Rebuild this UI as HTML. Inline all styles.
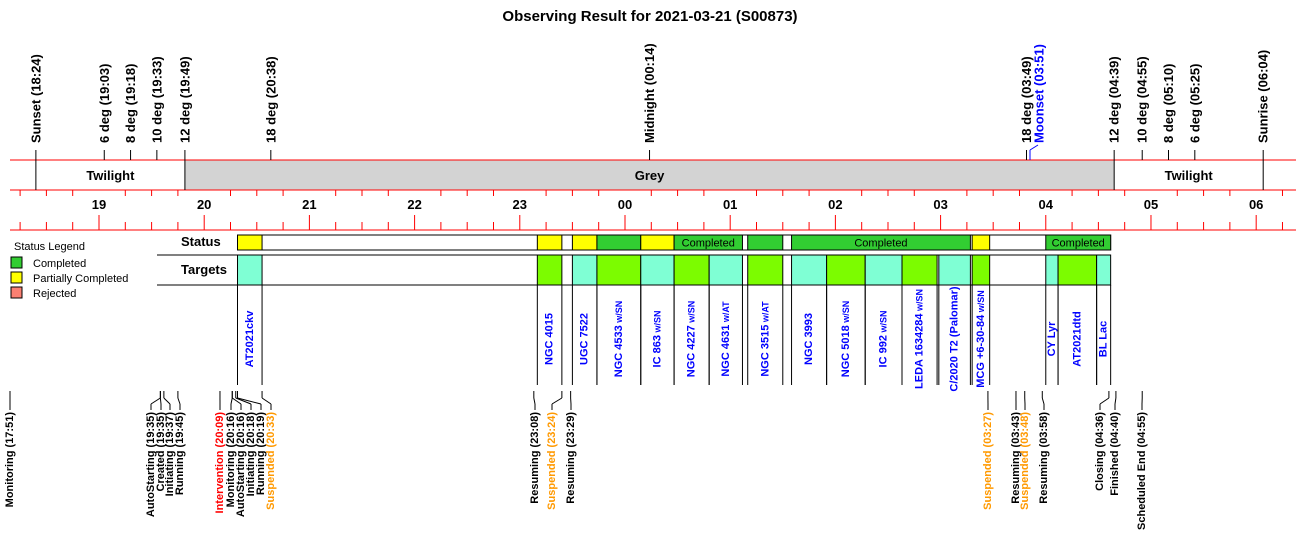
<!DOCTYPE html>
<html><head><meta charset="utf-8"><style>
html,body{margin:0;padding:0;background:#fff}
svg{display:block;font-family:"Liberation Sans",Arial,sans-serif}
</style></head><body>
<svg id="chart" width="1300" height="560" viewBox="0 0 1300 560" xmlns="http://www.w3.org/2000/svg">
<text x="650" y="21" text-anchor="middle" font-size="15" font-weight="bold">Observing Result for 2021-03-21 (S00873)</text>
<g font-size="11">
<text x="14" y="250">Status Legend</text>
<rect x="11" y="257" width="11" height="11" fill="#32CD32" stroke="#000"/>
<text x="33" y="267">Completed</text>
<rect x="11" y="272" width="11" height="11" fill="#FFFF00" stroke="#000"/>
<text x="33" y="282">Partially Completed</text>
<rect x="11" y="287" width="11" height="11" fill="#FA8072" stroke="#000"/>
<text x="33" y="297">Rejected</text>
</g>
<text x="181" y="246" font-size="13" font-weight="bold">Status</text>
<text x="181" y="274" font-size="13" font-weight="bold">Targets</text>
<g id="g"></g>
</svg>
<script>
const hourLabels = ["19","20","21","22","23","00","01","02","03","04","05","06"];
const topEvents = [
 ["Sunset","18:24"],["6 deg","19:03"],["8 deg","19:18"],["10 deg","19:33"],["12 deg","19:49"],
 ["18 deg","20:38"],["Midnight","00:14"],["18 deg","03:49"],["12 deg","04:39"],["10 deg","04:55"],
 ["8 deg","05:10"],["6 deg","05:25"],["Sunrise","06:04"]];
const moonEvent = ["Moonset","03:51"];
const bandEdges = ["18:24","19:49","04:39","06:04"];
const statusSegs = [
 ["20:19","20:33","P",""],["23:10","23:24","P",""],["23:30","23:44","P",""],["23:44","00:09","C",""],
 ["00:09","00:28","P",""],["00:28","01:07","C","Completed"],["01:10","01:30","C",""],
 ["01:35","03:17","C","Completed"],["03:18","03:28","P",""],["04:00","04:37","C","Completed"]];
const targetNames = ["AT2021ckv","NGC 4015","UGC 7522","NGC 4533|w/SN","IC 863|w/SN","NGC 4227|w/SN","NGC 4631|w/AT","NGC 3515|w/AT","NGC 3993","NGC 5018|w/SN","IC 992|w/SN","LEDA 1634284|w/SN","C/2020 T2 (Palomar)","MCG +6-30-84|w/SN","CY Lyr","AT2021dtd","BL Lac"];
const targetStart = ["20:19","23:10","23:30","23:44","00:09","00:28","00:48","01:10","01:35","01:55","02:17","02:38","02:59","03:18","04:00","04:07","04:29"];
const targetEnd   = ["20:33","23:24","23:44","00:09","00:28","00:48","01:07","01:30","01:55","02:17","02:38","02:58","03:17","03:28","04:07","04:29","04:37"];
const targetLime  = [0,1,0,1,0,1,0,1,0,1,0,1,0,1,0,1,0];
const bottomEvents = [
 ["Monitoring","17:51","k",10],["AutoStarting","19:35","k",151],["Created","19:35","k",161],["Initiating","19:37","k",170],
 ["Running","19:45","k",180],["Intervention","20:09","r",220],["Monitoring","20:16","k",231],["AutoStarting","20:16","k",241],
 ["Initiating","20:18","k",251],["Running","20:19","k",261],["Suspended","20:33","o",271],["Resuming","23:08","k",535],
 ["Suspended","23:24","o",552],["Resuming","23:29","k",571],["Suspended","03:27","o",988],["Resuming","03:43","k",1016],
 ["Suspended","03:48","o",1025],["Resuming","03:58","k",1044],["Closing","04:36","k",1100],["Finished","04:40","k",1115],
 ["Scheduled End","04:55","k",1142]];

const NS="http://www.w3.org/2000/svg";
const g=document.getElementById('g');
function mins(s){let [h,m]=s.split(':').map(Number);if(h<12)h+=24;return (h-19)*60+m;}
function X(s){return 99+mins(s)*1.7533;}
function XM(m){return 99+m*1.7533;}
function el(tag,attrs,parent){const e=document.createElementNS(NS,tag);for(const k in attrs)e.setAttribute(k,attrs[k]);(parent||g).appendChild(e);return e;}
function line(x1,y1,x2,y2,c,name){const e=el('line',{x1,y1,x2,y2,stroke:c||'#000','stroke-width':1});

return e;}
function rtext(x,y,txt,anchor,size,color,name){const e=el('text',{transform:`translate(${x},${y}) rotate(-90)`,'text-anchor':anchor,'dominant-baseline':'central','font-size':size,'font-weight':'bold',fill:color});e.textContent=txt;

return e;}

// twilight band
const gr=el('rect',{x:X(bandEdges[1]),y:160,width:X(bandEdges[2])-X(bandEdges[1]),height:30,fill:'#D3D3D3'});


[[ (X(bandEdges[0])+X(bandEdges[1]))/2,"Twilight"],[(X(bandEdges[1])+X(bandEdges[2]))/2,"Grey"],[(X(bandEdges[2])+X(bandEdges[3]))/2,"Twilight"]].forEach(([x,t])=>{
 const e=el('text',{x,y:180,'text-anchor':'middle','font-size':13,'font-weight':'bold'});e.textContent=t;
 
 });
[160,190,230].forEach(y=>line(10,y,1296,y,'#FF0000','axis-red-line'));
// ticks
for(let m=-45;m<=11*60+75;m+=15){const x=XM(m);if(x<10||x>1296)continue;
 const hr=(m%60===0);
 if(!hr) line(x,190,x,196,'#FF0000','minor-tick-top');
 line(x,hr?215:222,x,230,'#FF0000',hr?'hour-tick':'minor-tick');}
hourLabels.forEach((h,i)=>{const e=el('text',{x:XM(i*60),y:209,'text-anchor':'middle','font-size':13,'font-weight':'bold'});e.textContent=h;
 
 });
// top events
topEvents.forEach(([n,t])=>{const x=X(t);const full=bandEdges.includes(t);
 line(x,150,x,full?190:160,'#000','event-tick');
 rtext(x,143,`${n} (${t})`,'start',13,'#000','top-event-label');});
{const x=X(moonEvent[1]);line(x,150,x,160,'#0000FF','moonset-tick');line(x,150,x+8,145,'#0000FF','moonset-connector');
 rtext(x+9,143,`${moonEvent[0]} (${moonEvent[1]})`,'start',13,'#0000FF','moonset-label');}
// status row
const sx0=X(statusSegs[0][0]), sx1=X(statusSegs[statusSegs.length-1][1]);
const sb=el('rect',{x:sx0,y:235,width:sx1-sx0,height:15,fill:'#fff',stroke:'#000'});


statusSegs.forEach(([a,b,s,lab])=>{const x=X(a),w=X(b)-X(a);
 const r=el('rect',{x,y:235,width:w,height:15,fill:s==='C'?'#32CD32':'#FFFF00',stroke:'#000'});
 
 
 if(lab){const e=el('text',{x:x+w/2,y:246.5,'text-anchor':'middle','font-size':11});e.textContent=lab;
  
  }});
// targets
line(157,255,sx1,255,'#000','targets-row-top');line(157,285,sx1,285,'#000','targets-row-bottom');
line(sx0,235,sx0,250,'#000','status-left-edge');
targetNames.forEach((n,i)=>{const x=X(targetStart[i]),x2=X(targetEnd[i]);
 const r=el('rect',{x,y:255,width:x2-x,height:30,fill:targetLime[i]?'#7CFC00':'#7FFFD4',stroke:'#000'});
 
 
 line(x,285,x,385,'#000','target-boundary');line(x2,285,x2,385,'#000','target-boundary');
 const [main,sub]=n.split('|');
 const t=rtext((x+x2)/2,339,main,'middle',11,'#0000FF','target-label');
 if(sub){const ts=document.createElementNS(NS,'tspan');ts.setAttribute('font-size','9');ts.textContent=' '+sub;t.appendChild(ts);}
});
// bottom events
const colors={k:'#000',r:'#FF0000',o:'#FF9900'};
bottomEvents.forEach(([n,t,c,lx])=>{let x=X(t);if(x<10)x=10;
 line(x,391,x,398,'#000','event-tick-bottom');line(x,398,lx,404,'#000','event-connector');line(lx,404,lx,410,'#000','event-connector');
 rtext(lx,412,`${n} (${t})`,'end',11,colors[c],'bottom-event-label');});
</script>
</body></html>
